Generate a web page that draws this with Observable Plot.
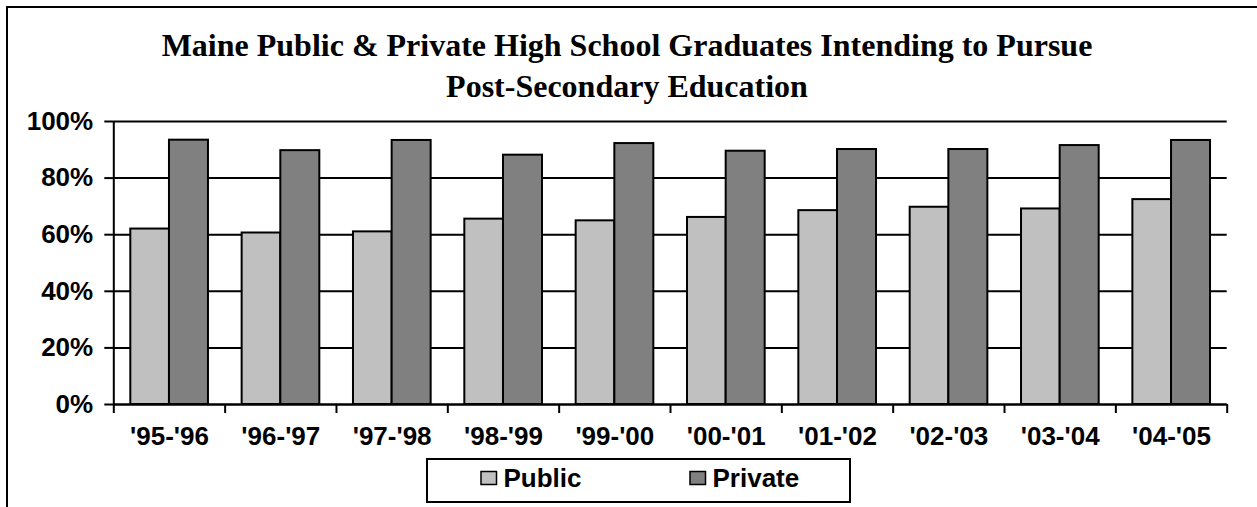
<!DOCTYPE html>
<html><head><meta charset="utf-8">
<script src="https://cdn.jsdelivr.net/npm/d3@7"></script>
<script src="https://cdn.jsdelivr.net/npm/@observablehq/plot@0.6"></script>
<style>html,body{margin:0;padding:0;background:#fff;}</style>
</head><body><div id="chart"></div>
<script>
const titleLines = ["Maine Public & Private High School Graduates Intending to Pursue", "Post-Secondary Education"];
const years = ["'95-'96", "'96-'97", "'97-'98", "'98-'99", "'99-'00", "'00-'01", "'01-'02", "'02-'03", "'03-'04", "'04-'05"];
const publicPct = [62.0, 60.6, 61.0, 65.5, 64.9, 66.1, 68.5, 69.7, 69.1, 72.4];
const privatePct = [93.4, 89.7, 93.3, 88.1, 92.2, 89.5, 90.1, 90.1, 91.5, 93.3];
const seriesNames = ["Public", "Private"];
const seriesColors = ["#c0c0c0", "#808080"];
const yTicks = [0, 20, 40, 60, 80, 100];

const publicRows = years.map((year, i) => ({i, year, value: publicPct[i]}));
const privateRows = years.map((year, i) => ({i, year, value: privatePct[i]}));

const W = 1257, H = 507;
const sans = "'Liberation Sans', Arial, sans-serif";
const serif = "'Liberation Serif', 'Times New Roman', serif";

const plot = Plot.plot({
  width: W, height: H,
  marginLeft: 113.3, marginRight: 30.3, marginTop: 121, marginBottom: 103,
  style: {fontFamily: sans, fontSize: "26px", fontWeight: "bold", background: "#fff", color: "#000"},
  x: {type: "linear", domain: [0, years.length], axis: null, label: null},
  y: {domain: [0, 100], axis: null, label: null},
  marks: [
    Plot.gridY(yTicks, {stroke: "#000", strokeOpacity: 1, strokeWidth: 2}),
    Plot.rectY(publicRows, {x1: "i", x2: d => d.i + 1, y1: 0, y2: "value", insetLeft: 17, insetRight: 55.67, fill: seriesColors[0], stroke: "#000", strokeWidth: 2}),
    Plot.rectY(privateRows, {x1: "i", x2: d => d.i + 1, y1: 0, y2: "value", insetLeft: 55.67, insetRight: 16.67, fill: seriesColors[1], stroke: "#000", strokeWidth: 2}),
    Plot.ruleX([0], {y1: 0, y2: 100, stroke: "#000", strokeWidth: 2}),
    Plot.ruleY([0], {stroke: "#000", strokeWidth: 2}),
    Plot.axisY(yTicks, {tickSize: 9, tickPadding: 11.6, tickFormat: d => d + "%", stroke: "#000", strokeWidth: 2, label: null}),
    Plot.axisX(d3.range(years.length + 1), {tickSize: 9, tickFormat: () => "", stroke: "#000", strokeWidth: 2, label: null}),
    Plot.axisX(years.map((_, i) => i + 0.5), {tickSize: 0, tickPadding: 22.5, tickFormat: d => years[Math.floor(d)], label: null})
  ]
});

const svg = d3.select(plot);
// outer chart frame (cropped: top and left edges)
svg.append("path").attr("d", `M7,${H} V7 H${W}`).attr("fill", "none").attr("stroke", "#000").attr("stroke-width", 2);

// title
titleLines.forEach((t, k) => {
  svg.append("text").attr("x", 627).attr("y", 56 + k * 41)
    .attr("text-anchor", "middle").attr("font-family", serif).attr("font-size", 32).attr("font-weight", "bold")
    .attr("fill", "#000").text(t);
});

// legend
const lg = svg.append("g").attr("transform", "translate(427,459)");
lg.append("rect").attr("x", 0).attr("y", 0).attr("width", 423).attr("height", 43).attr("fill", "#fff").attr("stroke", "#000").attr("stroke-width", 2);
const itemX = [54, 263];
seriesNames.forEach((name, k) => {
  lg.append("rect").attr("x", itemX[k]).attr("y", 12.5).attr("width", 15.5).attr("height", 13)
    .attr("fill", seriesColors[k]).attr("stroke", "#000").attr("stroke-width", 1.5);
  lg.append("text").attr("x", itemX[k] + 22.5).attr("y", 27.5).attr("text-anchor", "start")
    .attr("font-family", sans).attr("font-size", 26)
    .attr("font-weight", "bold").attr("fill", "#000").text(name);
});

document.getElementById("chart").appendChild(plot);
</script>
</body></html>
